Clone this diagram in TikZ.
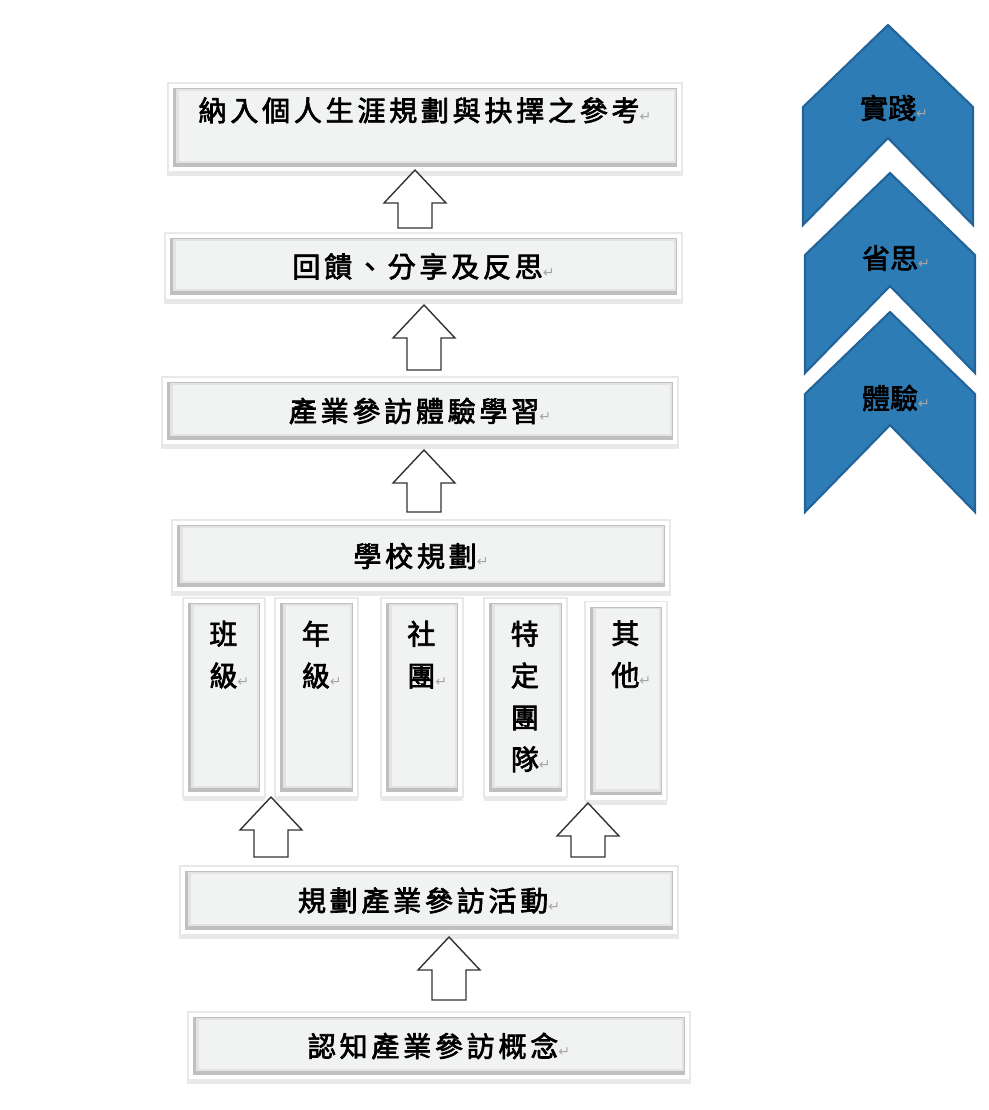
\documentclass[tikz,border=0pt]{standalone}
\usepackage{fontspec}
\usetikzlibrary{shadows,positioning}
\newfontfamily\cjk[FakeBold=2.4]{Noto Sans CJK TC}
\newfontfamily\cjkwide[FakeBold=2.4,LetterSpace=13]{Noto Sans CJK TC}
\newfontfamily\dv{DejaVu Sans}
\definecolor{chevfill}{HTML}{2E7CB6}
\definecolor{chevline}{HTML}{22649A}
\definecolor{platefill}{HTML}{F1F3F3}
\newcommand\ret{{\dv\fontsize{8}{8}\selectfont\color{gray!70}↵}}
\newcommand\uparr[1]{-- ++(31,33) -- ++(-14,0) -- ++(0,{#1-33}) -- ++(-34,0) -- ++(0,{33-#1}) -- ++(-14,0) -- cycle}
\tikzset{
  sz/.style 2 args={minimum width=#1*0.02cm, minimum height=#2*0.02cm},
  plate/.style={fill=white, draw=gray!18, line width=.6pt, inner sep=0pt,
    drop shadow={opacity=.18, shadow xshift=0pt, shadow yshift=-2pt, shadow scale=1.005},
    font=\cjkwide\fontsize{16}{18}\selectfont,
    path picture={
      \fill[gray!50] ([shift={(3pt,-3pt)}]path picture bounding box.north west)
        rectangle ([shift={(-3pt,3pt)}]path picture bounding box.south east);
      \fill[gray!22] ([shift={(4.5pt,-3.5pt)}]path picture bounding box.north west)
        rectangle ([shift={(-3.5pt,5pt)}]path picture bounding box.south east);
      \fill[platefill] ([shift={(6pt,-4.5pt)}]path picture bounding box.north west)
        rectangle ([shift={(-4.5pt,6.5pt)}]path picture bounding box.south east);
    }},
  coltext/.style={inner sep=0pt, align=left, font=\cjk\fontsize{16}{23.8}\selectfont},
  chevtext/.style={inner sep=0pt, font=\cjk\fontsize{16}{18}\selectfont},
  blockarr/.style={draw=black!80, fill=white, line width=.8pt, line join=miter},
  chev/.style={fill=chevfill, draw=chevline, line width=1.2pt, line join=miter},
}
\begin{document}
\begin{tikzpicture}[x=0.02cm, y=-0.02cm]
  \def\chevpath{-- ++(85,82) -- ++(0,118) -- ++(-85,-87) -- ++(-85,87) -- ++(0,-118) -- cycle}
  \useasboundingbox (0,0) rectangle (989,1110);

  %A: Main steps
  \node[plate, sz={514}{89}, text height=0.4cm, text depth=0.66cm] (b1) at (425,127.5) {納入個人生涯規劃與抉擇之參考\ret};
  \node[plate, sz={517}{67}] (b2) at (423.5,266.5) {回饋、分享及反思\ret};
  \node[plate, sz={516}{68}] (b3) at (420,411) {產業參訪體驗學習\ret};
  \node[plate, sz={498}{72}] (b4) at (421,556) {學校規劃\ret};
  \node[plate, sz={498}{69}] (b5) at (429,900.5) {規劃產業參訪活動\ret};
  \node[plate, sz={502}{68}] (b6) at (439,1046) {認知產業參訪概念\ret};

  %A: Groups under school planning
  \node[plate, sz={82}{199}] (c1) at (224,697.5) {};
  \node[plate, sz={83}{199}] (c2) at (316.5,697.5) {};
  \node[plate, sz={82}{199}] (c3) at (422,697.5) {};
  \node[plate, sz={83}{199}] (c4) at (525.5,697.5) {};
  \node[plate, sz={82}{199}] (c5) at (626,701) {};
  \node[coltext, below=0.46cm of c1.north, xshift=3pt] (t1) {班\\級\ret};
  \node[coltext, below=0.46cm of c2.north, xshift=3pt] (t2) {年\\級\ret};
  \node[coltext, below=0.46cm of c3.north, xshift=3pt] (t3) {社\\團\ret};
  \node[coltext, below=0.46cm of c4.north, xshift=3pt] (t4) {特\\定\\團\\隊\ret};
  \node[coltext, below=0.38cm of c5.north, xshift=3pt] (t5) {其\\他\ret};

  %A: Block arrows
  \coordinate (p1) at (415,170);
  \coordinate (p2) at (424,305);
  \coordinate (p3) at (424,450);
  \coordinate (p4) at (271,797);
  \coordinate (p5) at (588,803);
  \coordinate (p6) at (449,937);
  \draw[blockarr] (p1) \uparr{58};
  \draw[blockarr] (p2) \uparr{65};
  \draw[blockarr] (p3) \uparr{62};
  \draw[blockarr] (p4) \uparr{60};
  \draw[blockarr] (p5) \uparr{54};
  \draw[blockarr] (p6) \uparr{63};

  %A: Chevrons
  \draw[chev] (888,25) \chevpath;
  \draw[chev] (890,173) \chevpath;
  \draw[chev] (890,312) \chevpath;
  \node[chevtext] (v1) at (894,108) {實踐\ret};
  \node[chevtext] (v2) at (896,258) {省思\ret};
  \node[chevtext] (v3) at (896,398) {體驗\ret};
\end{tikzpicture}
\end{document}
